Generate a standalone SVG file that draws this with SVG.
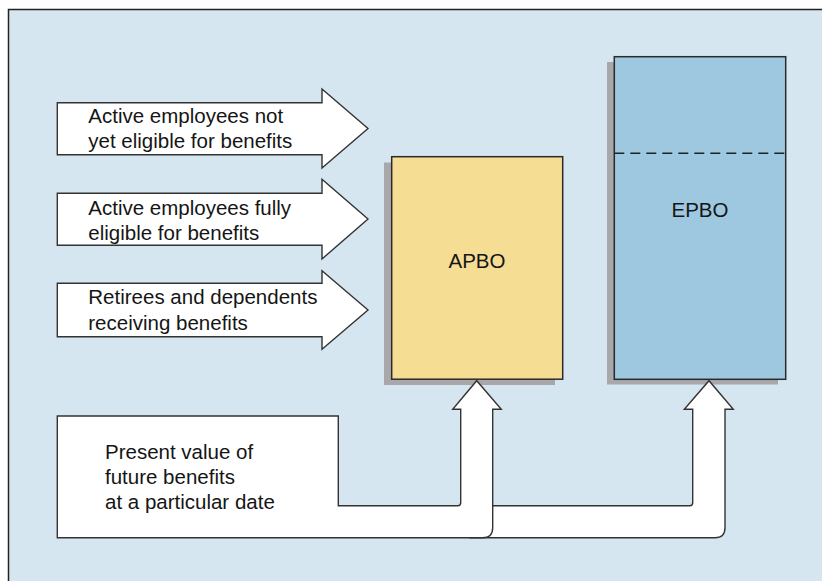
<svg xmlns="http://www.w3.org/2000/svg" width="822" height="581" viewBox="0 0 822 581">
<style>
.bg{fill:#d5e6f1;stroke:#222;stroke-width:1.5}
.sh{fill:#a8a8ab}
.shape{fill:#fff;stroke:#333;stroke-width:1.4;stroke-linejoin:miter}
.t{font-family:"Liberation Sans",Arial,sans-serif;font-size:20.5px;fill:#151515}
.c{text-anchor:middle}
</style>
<rect class="bg" x="8.5" y="9.5" width="830" height="590"/>
<g id="arrow-not-eligible">
<path class="shape" d="M57.3,102.7 H322 V89 L368,128.5 L322,168 V154.7 H57.3 Z"/>
<text class="t" x="88.3" y="122.7">Active employees not</text>
<text class="t" x="88.3" y="147.7">yet eligible for benefits</text>
</g>
<g id="arrow-fully-eligible">
<path class="shape" d="M57.3,193.3 H322 V179.3 L368,219 L322,259 V245.3 H57.3 Z"/>
<text class="t" x="88.3" y="214.5">Active employees fully</text>
<text class="t" x="88.3" y="239.5">eligible for benefits</text>
</g>
<g id="arrow-retirees">
<path class="shape" d="M57.3,283.3 H322 V270.7 L368,310 L322,349.3 V336.7 H57.3 Z"/>
<text class="t" x="88.3" y="304.3">Retirees and dependents</text>
<text class="t" x="88.3" y="330">receiving benefits</text>
</g>
<g id="apbo">
<rect class="sh" x="384" y="162.5" width="171" height="222.5"/>
<rect x="391.7" y="156.7" width="171" height="222.5" fill="#f6dd94" stroke="#2a2a2a" stroke-width="1.5"/>
<text class="t c" x="477" y="267.7">APBO</text>
</g>
<g id="epbo">
<rect class="sh" x="607" y="62" width="171" height="322.5"/>
<rect x="614.3" y="56.7" width="171.4" height="322.6" fill="#9dc8e0" stroke="#2a2a2a" stroke-width="1.5"/>
<line x1="614.3" y1="153.3" x2="785.7" y2="153.3" stroke="#222" stroke-width="1.5" stroke-dasharray="10,6"/>
<text class="t c" x="700" y="216.7">EPBO</text>
</g>
<g id="connectors">
<path class="shape" d="M470,505.7 H689.7 Q692.7,505.7 692.7,502.7 V409.3 H684.3 L709,380.7 L733.3,409.3 H725 V527.7 Q725,537.7 715,537.7 H470 Z"/>
<path class="shape" d="M57.3,416 H338.3 V505.7 H457.7 Q460.7,505.7 460.7,502.7 V409.3 H452.7 L476.7,380.7 L501.3,409.3 H492.7 V527.7 Q492.7,537.7 482.7,537.7 H57.3 Z"/>
</g>
<g id="present-value">
<text class="t" x="105" y="459">Present value of</text>
<text class="t" x="105" y="484">future benefits</text>
<text class="t" x="105" y="509.3">at a particular date</text>
</g>
</svg>
